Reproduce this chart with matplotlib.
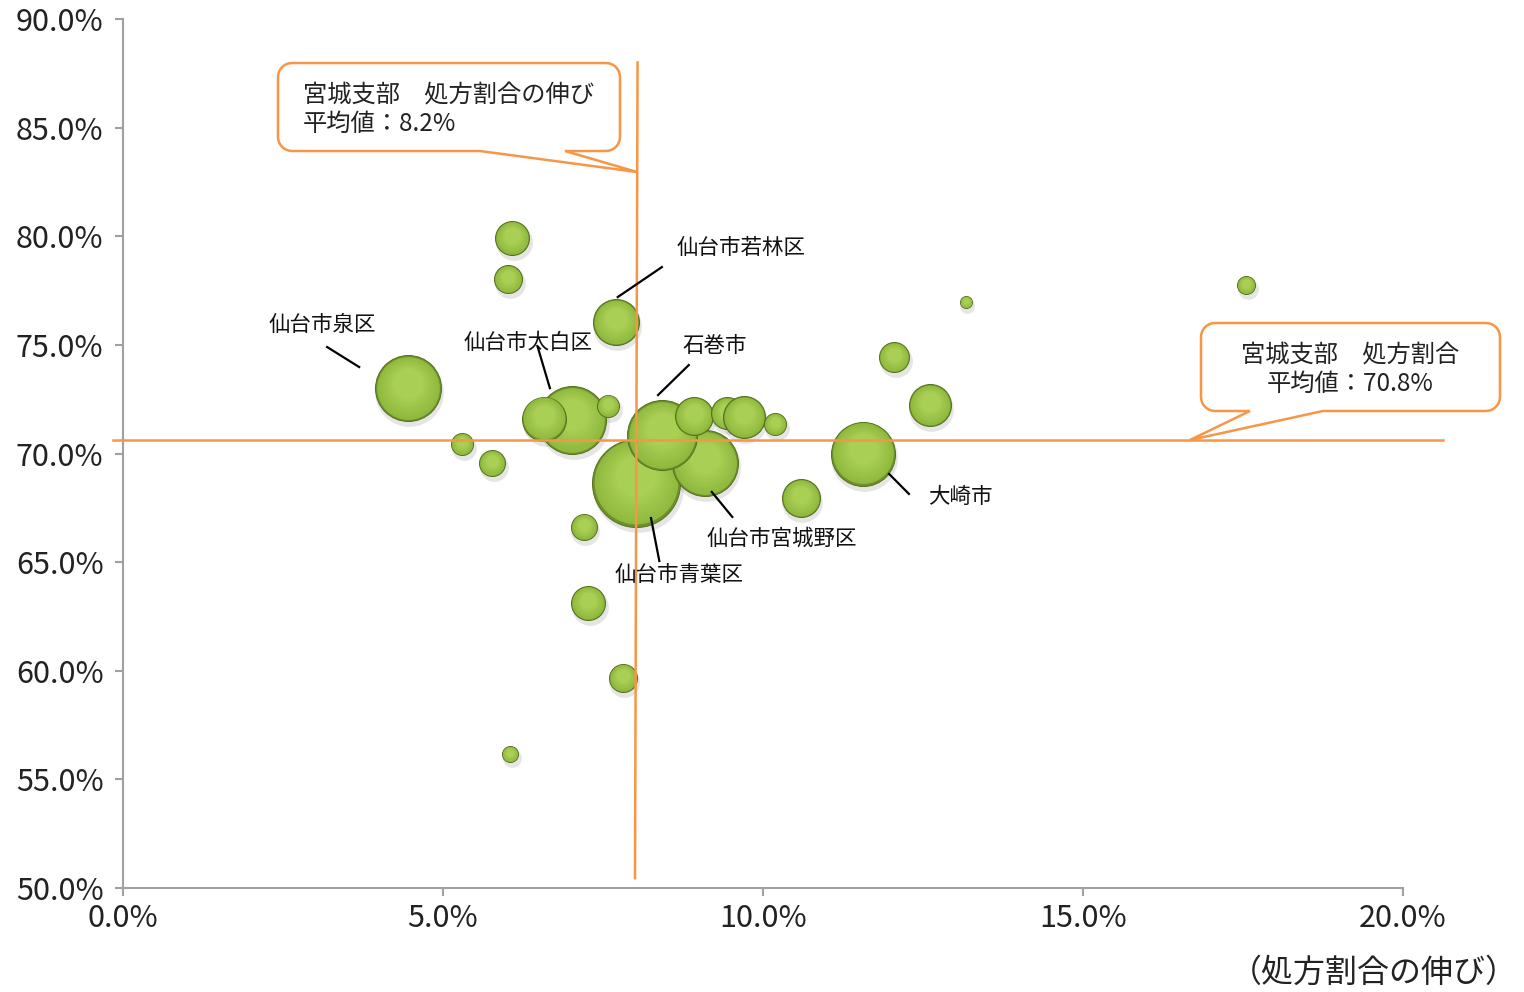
import numpy as np
import matplotlib
matplotlib.use("Agg")
import matplotlib.pyplot as plt
import matplotlib.transforms as mtransforms
from matplotlib.path import Path
from matplotlib.patches import PathPatch
from matplotlib.colors import to_rgb

plt.rcParams['font.family'] = ['Noto Sans CJK JP', 'DejaVu Sans']

# データ (draw order = list order)
names = ['仙台市青葉区', '仙台市宮城野区', '石巻市', '仙台市太白区', '仙台市泉区', '大崎市',
         '仙台市若林区', '', '', '', '', '', '', '', '', '', '', '', '', '', '', '', '', '', '', '']
growth = [8.02, 9.09, 8.42, 7.02, 4.45, 11.56,
          7.70, 6.58, 8.92, 9.44, 9.70, 7.58, 5.30, 5.77, 10.19, 6.08, 6.02, 7.20,
          7.27, 7.81, 6.05, 10.59, 12.05, 12.61, 13.17, 17.55]
share = [68.64, 69.56, 70.85, 71.54, 73.00, 69.98,
         76.05, 71.60, 71.73, 71.86, 71.68, 72.20, 70.44, 69.56, 71.36, 79.92, 78.03, 66.62,
         63.12, 59.67, 56.17, 67.95, 74.44, 72.23, 76.97, 77.76]
weight = [1936, 1089, 1225, 1156, 1089, 1024,
          529, 484, 361, 256, 441, 121, 121, 169, 121, 289, 196, 169,
          289, 196, 64, 361, 225, 441, 36, 81]

mean_growth = 8.02     # 平均値 8.2%
mean_share = 70.62     # 平均値 70.8%

fig = plt.figure(figsize=(15.24, 9.92), dpi=100)
W, H = 1524, 992
ax = fig.add_axes([123 / W, (H - 888) / H, 1280 / W, 869 / H])
ax.set_xlim(0, 20)
ax.set_ylim(50, 90)

rim = np.array(to_rgb('#6f902c'))
mid = np.array(to_rgb('#8fba3e'))
light = np.array(to_rgb('#a9cf55'))

for gx, sy, w in zip(growth, share, weight):
    r_pt = np.sqrt(w) * 0.72
    # shadow
    sh = mtransforms.offset_copy(ax.transData, fig=fig, x=1.0, y=-3.0, units='points')
    ax.scatter([gx], [sy], s=(2 * r_pt + 2) ** 2, color='#000000', alpha=0.10,
               linewidths=0, transform=sh, zorder=2)
    ax.scatter([gx], [sy], s=(2 * r_pt) ** 2, color=rim, linewidths=0.7,
               edgecolors='#56721d', zorder=3)
    n = 9
    for i in range(n):
        f = 0.95 - 0.55 * i / n
        t = i / (n - 1)
        c = mid * (1 - t) + light * t
        dy = (1 - f) * r_pt * 0.3
        tr = mtransforms.offset_copy(ax.transData, fig=fig, x=0, y=dy, units='points')
        ax.scatter([gx], [sy], s=(2 * r_pt * f) ** 2, color=c, linewidths=0,
                   transform=tr, zorder=3)

# 平均線
ax.plot([mean_growth + 0.02, mean_growth - 0.02], [88.0, 50.45], color='#f79646', lw=1.8,
        clip_on=False, zorder=5)
ax.plot([-0.16, 20.63], [mean_share, mean_share], color='#f79646', lw=1.8,
        clip_on=False, zorder=5)

# ラベル
label_pos = {
    '仙台市若林区': ((9.66, 79.46), (8.42, 78.58), (7.73, 77.20)),
    '仙台市泉区': ((3.11, 75.92), (3.19, 74.90), (3.69, 73.98)),
    '仙台市太白区': ((6.33, 75.09), (6.48, 74.90), (6.67, 73.01)),
    '石巻市': ((9.25, 74.95), (8.84, 74.07), (8.36, 72.69)),
    '仙台市宮城野区': ((10.30, 66.06), (9.52, 67.08), (9.20, 68.23)),
    '仙台市青葉区': ((8.69, 64.41), (8.38, 65.05), (8.25, 67.03)),
    '大崎市': ((13.09, 68.00), (12.28, 68.14), (11.97, 69.06)),
}
for nm in names:
    if nm:
        tp, p0, p1 = label_pos[nm]
        ax.text(tp[0], tp[1], nm, fontsize=15.5, ha='center', va='center', color='#111111', zorder=6)
        ax.plot([p0[0], p1[0]], [p0[1], p1[1]], color='black', lw=1.6, zorder=6)

# axes
for s in ['top', 'right']:
    ax.spines[s].set_visible(False)
for s in ['left', 'bottom']:
    ax.spines[s].set_color('#a0a0a0')
    ax.spines[s].set_linewidth(1.5)
ax.set_xticks(np.arange(0, 20.1, 5))
ax.set_yticks(np.arange(50, 90.1, 5))
ax.set_xticklabels([f'{v:.1f}%' for v in np.arange(0, 20.1, 5)])
ax.set_yticklabels([f'{v:.1f}%' for v in np.arange(50, 90.1, 5)])
ax.tick_params(axis='both', direction='out', length=6, width=1.5, color='#a0a0a0',
               labelsize=22, labelcolor='#222222')
ax.tick_params(axis='y', pad=8)
ax.tick_params(axis='x', pad=5)

fig.text(1518 / W, 1 - 973 / H, '（処方割合の伸び）', fontsize=23, ha='right', va='center', color='#222222')


def callout(x0, y0, x1, y1, b0, b1, tip, r=14):
    pts = []
    def arc(cx, cy, a0, a1):
        for a in np.linspace(a0, a1, 8):
            pts.append((cx + r * np.cos(np.radians(a)), cy + r * np.sin(np.radians(a))))
    # image coords, y down
    pts.append((x0 + r, y0))
    pts.append((x1 - r, y0))
    arc(x1 - r, y0 + r, -90, 0)
    pts.append((x1, y1 - r))
    arc(x1 - r, y1 - r, 0, 90)
    pts.append((b1, y1))
    pts.append(tip)
    pts.append((b0, y1))
    pts.append((x0 + r, y1))
    arc(x0 + r, y1 - r, 90, 180)
    pts.append((x0, y0 + r))
    arc(x0 + r, y0 + r, 180, 270)
    pts.append((x0 + r, y0))
    verts = [(px / W, 1 - py / H) for px, py in pts]
    codes = [Path.MOVETO] + [Path.LINETO] * (len(verts) - 2) + [Path.CLOSEPOLY]
    patch = PathPatch(Path(verts, codes), facecolor='white', edgecolor='#f79646', lw=1.8,
                      transform=fig.transFigure, zorder=10)
    fig.patches.append(patch)


callout(278, 63, 620, 151, 480, 565, (637, 172))
fig.text(303 / W, 1 - 95 / H, '宮城支部　処方割合の伸び', fontsize=17.5, ha='left', va='center', color='#222222', zorder=11)
fig.text(303 / W, 1 - 124 / H, '平均値：8.2%', fontsize=17.5, ha='left', va='center', color='#222222', zorder=11)

callout(1201, 323, 1500, 411, 1250, 1323, (1190, 440))
fig.text(1350 / W, 1 - 355 / H, '宮城支部　処方割合', fontsize=17.5, ha='center', va='center', color='#222222', zorder=11)
fig.text(1350 / W, 1 - 384 / H, '平均値：70.8%', fontsize=17.5, ha='center', va='center', color='#222222', zorder=11)

fig.savefig('out.png', dpi=100)
